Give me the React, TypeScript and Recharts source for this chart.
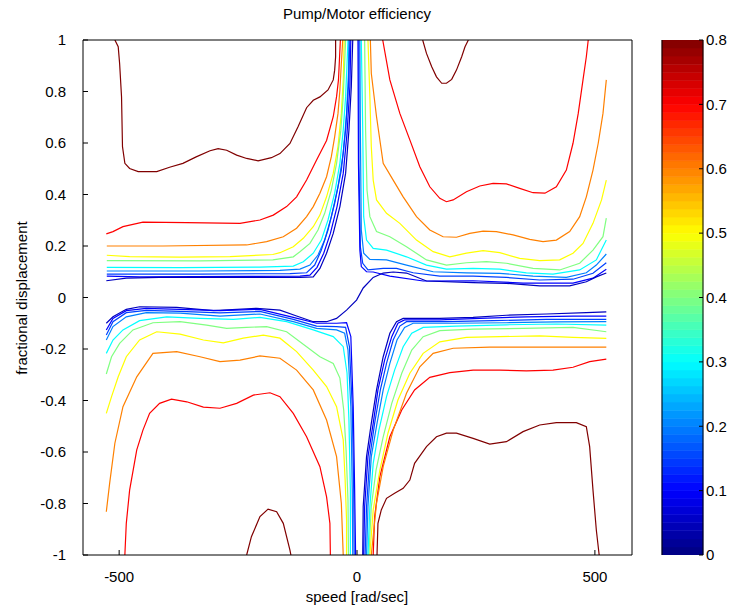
import React from 'react';
import { LineChart, Line, XAxis, YAxis, BarChart, Bar, Customized } from 'recharts';

const FONT = '"Liberation Sans", Arial, Helvetica, sans-serif';

const xTicks = [-500, 0, 500];
const yTicks = [-1, -0.8, -0.6, -0.4, -0.2, 0, 0.2, 0.4, 0.6, 0.8, 1];
const cbTicks = [0, 0.1, 0.2, 0.3, 0.4, 0.5, 0.6, 0.7, 0.8];
const xDomain = [-576, 578];
const yDomain = [-1, 1];
const cbDomain = [0, 0.8];

// upper-left contours
const ul080 = [[-509,1],[-502,0.974],[-499,0.908],[-495,0.78],[-493,0.586],[-488,0.521],[-478,0.501],[-460,0.489],[-421,0.489],[-394,0.506],[-366,0.521],[-337,0.547],[-309,0.57],[-292,0.578],[-274,0.572],[-253,0.553],[-232,0.54],[-208,0.531],[-180,0.543],[-162,0.559],[-141,0.598],[-124,0.663],[-106,0.737],[-92,0.766],[-78,0.779],[-61,0.806],[-50,0.845],[-47,0.883],[-45,0.935],[-45,1]];
const ul070 = [[-527,0.247],[-513,0.256],[-492,0.275],[-450,0.293],[-358,0.291],[-246,0.288],[-204,0.301],[-176,0.32],[-148,0.353],[-127,0.391],[-106,0.456],[-85,0.534],[-64,0.61],[-50,0.702],[-43,0.78],[-39,0.845],[-35,1]];
const ul060 = [[-526,0.2],[-408,0.2],[-232,0.204],[-190,0.217],[-155,0.236],[-127,0.269],[-106,0.314],[-92,0.353],[-78,0.405],[-64,0.469],[-54,0.547],[-47,0.624],[-40,0.715],[-36,0.806],[-33,0.909],[-30,1]];
const ul050 = [[-526,0.164],[-478,0.159],[-372,0.157],[-267,0.159],[-177,0.167],[-162,0.174],[-134,0.197],[-113,0.23],[-92,0.275],[-78,0.32],[-64,0.391],[-50,0.482],[-40,0.586],[-33,0.715],[-29,0.845],[-27,1]];
const ul040 = [[-526,0.143],[-330,0.142],[-177,0.146],[-134,0.158],[-120,0.178],[-99,0.21],[-82,0.262],[-68,0.327],[-54,0.417],[-43,0.521],[-34,0.65],[-29,0.78],[-26,0.909],[-24,1]];
const ul030 = [[-526,0.117],[-372,0.116],[-204,0.118],[-134,0.122],[-113,0.139],[-92,0.172],[-75,0.223],[-61,0.301],[-47,0.405],[-36,0.521],[-29,0.65],[-24,0.78],[-21,0.909],[-19,1]];
const ul020 = [[-526,0.103],[-330,0.103],[-162,0.105],[-120,0.11],[-99,0.126],[-82,0.165],[-68,0.223],[-54,0.314],[-40,0.43],[-29,0.56],[-22,0.715],[-18,0.871],[-17,1]];
const ul015 = [[-526,0.091],[-330,0.091],[-141,0.093],[-106,0.096],[-89,0.126],[-75,0.184],[-61,0.262],[-47,0.366],[-33,0.495],[-24,0.65],[-18,0.819],[-15,1]];
const ul010 = [[-526,0.083],[-457,0.08],[-225,0.082],[-120,0.083],[-99,0.087],[-84,0.117],[-70,0.172],[-56,0.249],[-42,0.353],[-29,0.482],[-21,0.638],[-15,0.819],[-13,1]];
const ul005 = [[-527,0.065],[-485,0.075],[-415,0.078],[-316,0.078],[-120,0.078],[-92,0.08],[-78,0.113],[-64,0.172],[-50,0.249],[-36,0.353],[-24,0.482],[-17,0.65],[-12,0.819],[-9,1]];

// upper-right contours
const ur080 = [[138,1],[146,0.948],[157,0.896],[167,0.857],[178,0.832],[188,0.832],[199,0.847],[209,0.883],[220,0.935],[227,0.974],[234,1]];
const ur070 = [[54,1],[69,0.845],[90,0.715],[111,0.612],[132,0.508],[153,0.43],[174,0.385],[188,0.372],[202,0.379],[230,0.411],[258,0.433],[286,0.443],[314,0.441],[342,0.424],[370,0.407],[395,0.405],[419,0.43],[440,0.495],[454,0.599],[465,0.715],[475,0.845],[482,0.935],[486,1]];
const ur060 = [[28,1],[30,0.871],[41,0.702],[55,0.521],[76,0.456],[97,0.391],[125,0.314],[153,0.262],[181,0.236],[209,0.234],[237,0.249],[265,0.258],[293,0.256],[328,0.243],[363,0.226],[391,0.217],[419,0.223],[447,0.256],[468,0.314],[482,0.391],[496,0.495],[507,0.599],[517,0.715],[524,0.845]];
const ur050 = [[23,1],[27,0.78],[30,0.586],[34,0.456],[41,0.379],[62,0.327],[90,0.288],[125,0.223],[160,0.178],[195,0.158],[230,0.172],[265,0.182],[300,0.174],[342,0.152],[384,0.143],[426,0.146],[454,0.172],[475,0.21],[496,0.288],[514,0.379],[524,0.456]];
const ur040 = [[16,1],[18,0.65],[21,0.417],[27,0.314],[41,0.256],[69,0.236],[104,0.197],[146,0.146],[188,0.126],[230,0.135],[272,0.139],[314,0.133],[370,0.113],[426,0.107],[468,0.133],[496,0.184],[517,0.236],[524,0.308]];
const ur030 = [[9,1],[12,0.65],[14,0.314],[20,0.223],[34,0.191],[62,0.184],[104,0.158],[146,0.126],[188,0.11],[244,0.113],[300,0.11],[356,0.096],[412,0.091],[468,0.107],[503,0.146],[524,0.223]];
const ur020 = [[6,1],[7,0.65],[9,0.262],[14,0.172],[27,0.148],[62,0.146],[104,0.126],[160,0.1],[230,0.096],[300,0.094],[370,0.083],[440,0.078],[482,0.096],[503,0.126],[524,0.169]];
const ur015 = [[4,1],[4,0.521],[7,0.197],[12,0.133],[23,0.107],[55,0.113],[83,0.113],[118,0.096],[174,0.083],[244,0.083],[314,0.078],[384,0.068],[454,0.071],[496,0.094],[524,0.135]];
const ur010 = [[2,1],[3,0.521],[6,0.184],[9,0.12],[20,0.1],[34,0.099],[69,0.083],[139,0.064],[244,0.065],[349,0.056],[454,0.056],[496,0.075],[524,0.11]];

// 0.05 contour crossing the centre (lower-left to upper-right)
const mid005 = [[-527,-0.1],[-513,-0.075],[-485,-0.046],[-457,-0.036],[-379,-0.038],[-302,-0.051],[-211,-0.042],[-162,-0.049],[-127,-0.072],[-92,-0.094],[-64,-0.094],[-43,-0.081],[-22,-0.049],[-1,-0.01],[13,0.037],[34,0.078],[55,0.095],[76,0.099],[104,0.095],[146,0.064],[244,0.058],[314,0.055],[384,0.045],[447,0.045],[482,0.061],[503,0.08],[524,0.095]];

// lower-left contours
const ll010 = [[-527,-0.126],[-513,-0.081],[-485,-0.051],[-443,-0.042],[-372,-0.046],[-288,-0.051],[-204,-0.046],[-134,-0.077],[-85,-0.1],[-43,-0.1],[-22,-0.098],[-13,-0.152],[-8,-0.424],[-5,-0.748],[-3,-1]];
const ll015 = [[-527,-0.146],[-513,-0.094],[-485,-0.059],[-443,-0.05],[-372,-0.054],[-288,-0.06],[-204,-0.054],[-134,-0.085],[-85,-0.111],[-43,-0.113],[-24,-0.116],[-16,-0.191],[-10,-0.424],[-7,-0.748],[-6,-1]];
const ll020 = [[-527,-0.165],[-513,-0.113],[-485,-0.075],[-443,-0.059],[-372,-0.061],[-288,-0.072],[-204,-0.064],[-134,-0.094],[-85,-0.12],[-43,-0.126],[-26,-0.139],[-19,-0.204],[-13,-0.424],[-10,-0.748],[-9,-1]];
const ll030 = [[-527,-0.217],[-513,-0.165],[-492,-0.126],[-457,-0.09],[-400,-0.075],[-330,-0.081],[-260,-0.085],[-204,-0.077],[-148,-0.094],[-92,-0.126],[-50,-0.152],[-29,-0.191],[-21,-0.293],[-17,-0.476],[-14,-0.748],[-14,-1]];
const ll040 = [[-527,-0.297],[-516,-0.23],[-499,-0.178],[-471,-0.126],[-429,-0.098],[-372,-0.094],[-316,-0.107],[-274,-0.12],[-232,-0.116],[-190,-0.113],[-148,-0.133],[-106,-0.191],[-78,-0.23],[-50,-0.256],[-36,-0.313],[-28,-0.437],[-23,-0.592],[-19,-0.786],[-18,-1]];
const ll050 = [[-527,-0.45],[-516,-0.385],[-502,-0.308],[-485,-0.23],[-457,-0.165],[-421,-0.133],[-372,-0.142],[-323,-0.165],[-281,-0.176],[-239,-0.158],[-197,-0.146],[-162,-0.158],[-127,-0.21],[-92,-0.282],[-64,-0.346],[-43,-0.424],[-29,-0.553],[-25,-0.709],[-22,-0.864],[-22,-1]];
const ll060 = [[-527,-0.832],[-520,-0.722],[-509,-0.566],[-492,-0.424],[-463,-0.308],[-429,-0.217],[-379,-0.21],[-330,-0.23],[-288,-0.249],[-246,-0.243],[-204,-0.227],[-162,-0.236],[-127,-0.282],[-92,-0.359],[-64,-0.476],[-43,-0.618],[-33,-0.799],[-29,-1]];
const ll070 = [[-488,-1],[-485,-0.877],[-478,-0.748],[-463,-0.592],[-450,-0.515],[-436,-0.45],[-415,-0.411],[-390,-0.395],[-358,-0.405],[-323,-0.426],[-288,-0.43],[-253,-0.411],[-218,-0.379],[-183,-0.37],[-162,-0.385],[-134,-0.45],[-106,-0.541],[-78,-0.657],[-64,-0.774],[-57,-0.877],[-56,-1]];
const ll080 = [[-232,-1],[-222,-0.929],[-204,-0.851],[-187,-0.822],[-169,-0.832],[-155,-0.877],[-141,-0.981],[-139,-1]];

// lower-right contours
const lr005 = [[12,-1],[13,-0.812],[20,-0.618],[30,-0.489],[41,-0.359],[55,-0.23],[69,-0.139],[83,-0.094],[97,-0.081],[174,-0.081],[244,-0.077],[314,-0.069],[398,-0.064],[482,-0.059],[524,-0.056]];
const lr010 = [[14,-1],[16,-0.812],[23,-0.618],[34,-0.489],[44,-0.359],[58,-0.243],[73,-0.152],[86,-0.1],[100,-0.087],[174,-0.087],[258,-0.081],[356,-0.075],[454,-0.072],[524,-0.072]];
const lr015 = [[17,-1],[20,-0.812],[27,-0.618],[37,-0.489],[49,-0.359],[62,-0.256],[76,-0.165],[90,-0.111],[104,-0.094],[188,-0.094],[286,-0.09],[398,-0.085],[524,-0.085]];
const lr020 = [[20,-1],[23,-0.812],[30,-0.618],[42,-0.489],[55,-0.359],[69,-0.256],[84,-0.165],[100,-0.116],[118,-0.1],[202,-0.1],[314,-0.098],[419,-0.095],[524,-0.094]];
const lr030 = [[23,-1],[27,-0.812],[34,-0.644],[46,-0.515],[62,-0.385],[79,-0.282],[97,-0.191],[115,-0.139],[139,-0.116],[209,-0.111],[314,-0.106],[419,-0.103],[524,-0.107]];
const lr040 = [[25,-1],[30,-0.812],[40,-0.67],[55,-0.541],[73,-0.411],[94,-0.294],[115,-0.204],[139,-0.152],[174,-0.129],[244,-0.123],[349,-0.12],[454,-0.116],[524,-0.133]];
const lr050 = [[27,-1],[34,-0.825],[48,-0.67],[65,-0.527],[86,-0.398],[111,-0.294],[139,-0.217],[174,-0.172],[230,-0.155],[300,-0.152],[384,-0.149],[454,-0.155],[524,-0.159]];
const lr060 = [[30,-1],[41,-0.799],[55,-0.657],[76,-0.515],[104,-0.372],[132,-0.269],[160,-0.217],[202,-0.197],[279,-0.193],[384,-0.193],[524,-0.193]];
const lr070 = [[34,-1],[37,-0.851],[48,-0.696],[69,-0.541],[94,-0.437],[121,-0.359],[153,-0.31],[195,-0.292],[244,-0.282],[300,-0.282],[356,-0.285],[412,-0.282],[454,-0.271],[489,-0.249],[524,-0.239]];
const lr080 = [[42,-1],[44,-0.877],[51,-0.825],[62,-0.78],[79,-0.76],[97,-0.741],[111,-0.709],[121,-0.644],[146,-0.579],[167,-0.541],[188,-0.527],[209,-0.527],[244,-0.547],[279,-0.569],[314,-0.56],[349,-0.521],[384,-0.495],[419,-0.486],[461,-0.486],[482,-0.502],[489,-0.579],[496,-0.748],[503,-0.903],[509,-1]];

const series = [
  { level: 0.8, pts: ul080 }, { level: 0.7, pts: ul070 }, { level: 0.6, pts: ul060 }, { level: 0.5, pts: ul050 },
  { level: 0.4, pts: ul040 }, { level: 0.3, pts: ul030 }, { level: 0.2, pts: ul020 }, { level: 0.15, pts: ul015 },
  { level: 0.1, pts: ul010 }, { level: 0.05, pts: ul005 },
  { level: 0.8, pts: ur080 }, { level: 0.7, pts: ur070 }, { level: 0.6, pts: ur060 }, { level: 0.5, pts: ur050 },
  { level: 0.4, pts: ur040 }, { level: 0.3, pts: ur030 }, { level: 0.2, pts: ur020 }, { level: 0.15, pts: ur015 },
  { level: 0.1, pts: ur010 }, { level: 0.05, pts: mid005 },
  { level: 0.8, pts: ll080 }, { level: 0.7, pts: ll070 }, { level: 0.6, pts: ll060 }, { level: 0.5, pts: ll050 },
  { level: 0.4, pts: ll040 }, { level: 0.3, pts: ll030 }, { level: 0.2, pts: ll020 }, { level: 0.15, pts: ll015 },
  { level: 0.1, pts: ll010 },
  { level: 0.8, pts: lr080 }, { level: 0.7, pts: lr070 }, { level: 0.6, pts: lr060 }, { level: 0.5, pts: lr050 },
  { level: 0.4, pts: lr040 }, { level: 0.3, pts: lr030 }, { level: 0.2, pts: lr020 }, { level: 0.15, pts: lr015 },
  { level: 0.1, pts: lr010 }, { level: 0.05, pts: lr005 },
];

const jet = (f: number) => {
  const c = (v: number) => Math.round(255 * Math.max(0, Math.min(1, v)));
  return `rgb(${c(1.5 - Math.abs(4 * f - 3))},${c(1.5 - Math.abs(4 * f - 2))},${c(1.5 - Math.abs(4 * f - 1))})`;
};

// colorbar: 64 equal colour steps of the jet map stacked from 0 to 0.8
const N_BANDS = 64;
const bandKeys = Array.from({ length: N_BANDS }, (_, i) => `b${i}`);
const bandColors = bandKeys.map((_, i) => jet((i + 0.5) / N_BANDS));
const cbRow = [Object.fromEntries([['name', 'cb'], ...bandKeys.map((k) => [k, cbDomain[1] / N_BANDS])])];

const tickStyle = { fill: '#000', fontSize: 15, fontFamily: FONT };
const lineStyle = { stroke: '#000', strokeWidth: 1 };

const Labels = () => (
  <g fontFamily={FONT} fill="#000">
    <text x={357} y={19} textAnchor="middle" fontSize={15}>Pump/Motor efficiency</text>
    <text x={357} y={602} textAnchor="middle" fontSize={15}>speed [rad/sec]</text>
    <text transform="translate(27,298) rotate(-90)" textAnchor="middle" fontSize={15}>fractional displacement</text>
  </g>
);

const CbFrame = (props: any) => {
  const off = props.offset || {};
  if (off.left == null) return null;
  return <rect x={off.left} y={off.top} width={off.width} height={off.height} fill="none" stroke="#000" strokeWidth={1} />;
};

export default function App() {
  return (
    <div style={{ position: 'absolute', left: 0, top: 0, width: 736, height: 610, background: '#fff' }}>
      <div style={{ position: 'absolute', left: 0, top: 0 }}>
        <LineChart width={640} height={610} margin={{ top: 39, right: 7, bottom: 0, left: 0 }}>
          <XAxis xAxisId="b" type="number" dataKey="x" domain={xDomain} ticks={xTicks} interval={0}
            orientation="bottom" height={55} tickSize={-5} tickMargin={21} allowDataOverflow
            axisLine={lineStyle} tickLine={lineStyle} tick={tickStyle} />
          <XAxis xAxisId="t" type="number" dataKey="x" domain={xDomain} ticks={xTicks} interval={0}
            orientation="top" height={1} tickSize={-5} tick={false} allowDataOverflow
            axisLine={lineStyle} tickLine={lineStyle} />
          <YAxis yAxisId="l" type="number" dataKey="y" domain={yDomain} ticks={yTicks} interval={0}
            orientation="left" width={83} tickSize={-5} tickMargin={22} allowDataOverflow
            axisLine={lineStyle} tickLine={lineStyle} tick={tickStyle} />
          <YAxis yAxisId="r" type="number" dataKey="y" domain={yDomain} ticks={yTicks} interval={0}
            orientation="right" width={1} tickSize={-5} tick={false} allowDataOverflow
            axisLine={lineStyle} tickLine={lineStyle} />
          {series.map((s, i) => (
            <Line key={i} xAxisId="b" yAxisId="l" type="linear"
              data={s.pts.map(([x, y]) => ({ x, y }))} dataKey="y"
              stroke={jet(s.level / 0.8)} strokeWidth={1.2} dot={false} activeDot={false}
              isAnimationActive={false} legendType="none" />
          ))}
          <Customized component={Labels} />
        </LineChart>
      </div>
      <div style={{ position: 'absolute', left: 640, top: 0 }}>
        <BarChart width={96} height={610} data={cbRow} barCategoryGap={0} barGap={0}
          margin={{ top: 40, right: 0, bottom: 55, left: 21 }}>
          <XAxis xAxisId="c" dataKey="name" type="category" hide />
          <YAxis yAxisId="cl" type="number" domain={cbDomain} ticks={cbTicks} interval={0}
            orientation="left" width={1} tickSize={-4} tick={false} allowDataOverflow
            axisLine={lineStyle} tickLine={lineStyle} />
          <YAxis yAxisId="cr" type="number" domain={cbDomain} ticks={cbTicks} interval={0}
            orientation="right" width={33} tickSize={-4} tickMargin={7} allowDataOverflow
            axisLine={lineStyle} tickLine={lineStyle} tick={{ ...tickStyle, textAnchor: 'start' }} />
          {bandKeys.map((k, i) => (
            <Bar key={k} xAxisId="c" yAxisId="cl" dataKey={k} stackId="cb" fill={bandColors[i]}
              stroke={bandColors[i]} strokeWidth={0.6} isAnimationActive={false} legendType="none" />
          ))}
          <Customized component={CbFrame} />
        </BarChart>
      </div>
    </div>
  );
}
